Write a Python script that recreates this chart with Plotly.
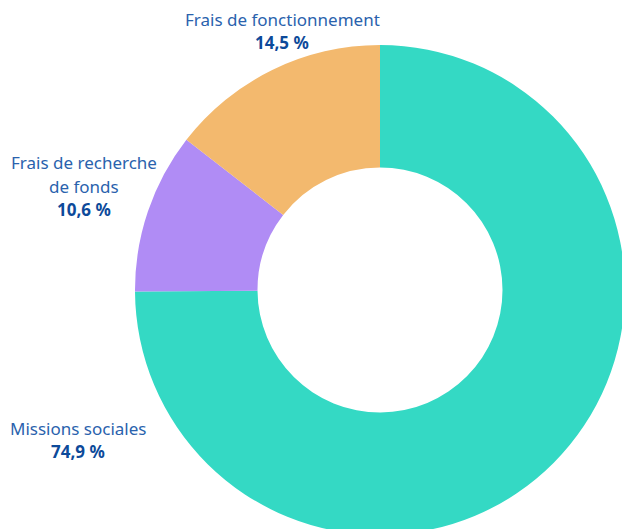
import plotly.graph_objects as go

labels = ["Missions sociales", "Frais de recherche de fonds", "Frais de fonctionnement"]
values = [74.9, 10.6, 14.5]
value_labels = ["74,9 %", "10,6 %", "14,5 %"]
colors = ["#34d9c4", "#b08cf5", "#f3b96e"]

# figure a little larger than the window: the donut runs off the right and bottom edges
W, H = 630, 540
TXT = "#2a62ad"
BOLD = "#0d4a9a"
FONT = "Noto Sans"

# donut centre (380, 290), radius 245 in screen pixels
cx, cy, r = 380, 290, 245

fig = go.Figure()
fig.add_trace(go.Pie(
    labels=labels, values=values, hole=0.5, sort=False,
    direction="clockwise", rotation=0,
    marker=dict(colors=colors, line=dict(width=0)),
    textinfo="none", hoverinfo="label+percent",
    domain=dict(x=[(cx - r) / W, (cx + r) / W], y=[1 - (cy + r) / H, 1 - (cy - r) / H]),
))

# label blocks: (lines, centre x, first line y in screen pixels)
blocks = [
    (["Missions sociales"], 78, 428, value_labels[0]),
    (["Frais de recherche", "de fonds"], 84, 163, value_labels[1]),
    (["Frais de fonctionnement"], 282, 20, value_labels[2]),
]
step = 23
for lines, bx, y0, val in blocks:
    for i, t in enumerate(lines + [val]):
        bold = i == len(lines)
        fig.add_annotation(
            x=bx / W, y=1 - (y0 + i * step) / H, xref="paper", yref="paper",
            text=f"<b>{t}</b>" if bold else t, showarrow=False,
            xanchor="center", yanchor="middle",
            font=dict(family=FONT, size=17, color=BOLD if bold else TXT),
        )

fig.update_layout(
    width=W, height=H, margin=dict(l=0, r=0, t=0, b=0),
    showlegend=False, paper_bgcolor="white", plot_bgcolor="white",
)
fig.write_html(
    "out.html",
    config={"displayModeBar": False},
    post_script="document.body.style.margin='0';document.body.style.overflow='hidden';",
)
